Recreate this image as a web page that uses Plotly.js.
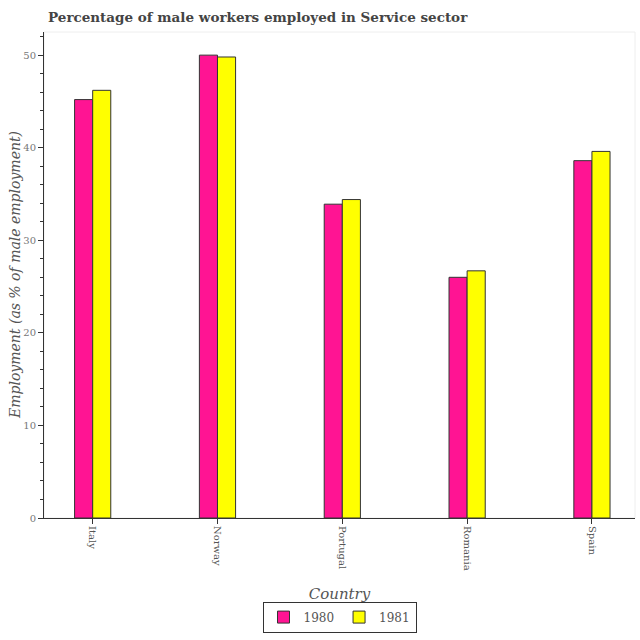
<!DOCTYPE html>
<html><head><meta charset="utf-8">
<script src="https://cdn.plot.ly/plotly-3.0.1.min.js"></script>
<style>body{margin:0;padding:0;background:#fff}</style>
</head><body>
<div id="chart" style="width:640px;height:640px"></div>
<script>
const countries = ["Italy", "Norway", "Portugal", "Romania", "Spain"];
const values1980 = [45.2, 50.0, 33.9, 26.0, 38.6];
const values1981 = [46.2, 49.8, 34.4, 26.7, 39.6];
const seriesNames = ["1980", "1981"];
const yTitle = "Employment (as % of male employment)";

const font = "DejaVu Serif, serif";
const traces = [
  {type: "bar", name: seriesNames[0], x: countries, y: values1980,
   marker: {color: "#ff1493", line: {color: "#333", width: 1}}},
  {type: "bar", name: seriesNames[1], x: countries, y: values1981,
   marker: {color: "#ffff00", line: {color: "#333", width: 1}}}
];
const layout = {
  width: 640, height: 640,
  margin: {l: 44, r: 5, t: 32, b: 122},
  paper_bgcolor: "#fff", plot_bgcolor: "#fff",
  font: {family: font, color: "#555", size: 11},
  title: {text: "<b>Percentage of male workers employed in Service sector</b>",
          x: 48/640, xanchor: "left", y: 1 - 17/640, yanchor: "middle",
          font: {family: font, size: 13.5, color: "#444"}},
  barmode: "group", bargap: 0.71, bargroupgap: 0,
  xaxis: {
    range: [-0.39, 4.345], showline: true, linecolor: "#333", linewidth: 1,
    ticks: "outside", ticklen: 5, tickcolor: "#333", tickangle: 90,
    tickfont: {family: font, size: 10, color: "#555"}, showgrid: false,
    title: {text: "<i>Country</i>", font: {family: font, size: 15, color: "#555"}, standoff: 18}
  },
  yaxis: {
    range: [0, 52.5], showline: true, linecolor: "#333", linewidth: 1,
    ticks: "outside", ticklen: 5, tickcolor: "#333", dtick: 10,
    tickfont: {family: font, size: 10, color: "#777"}, showgrid: false, zeroline: false,
    minor: {dtick: 2, ticks: "outside", ticklen: 3, tickcolor: "#333"}
  },
  annotations: [{text: "<i>" + yTitle + "</i>", xref: "paper", yref: "paper",
                 x: -29/591, y: 0.5, xanchor: "center", yanchor: "middle",
                 textangle: -90, showarrow: false,
                 font: {family: font, size: 14, color: "#555"}}],
  legend: {orientation: "h", x: 0.5, xanchor: "center", y: -0.172, yanchor: "top",
           bordercolor: "#333", borderwidth: 1, itemwidth: 30,
           font: {family: font, size: 12, color: "#555"}},
  shapes: [{type: "rect", xref: "paper", yref: "paper", x0: 0, x1: 1, y0: 0, y1: 1,
            line: {color: "#eee", width: 1}, layer: "below"}]
};
Plotly.newPlot("chart", traces, layout, {displayModeBar: false});
</script>
</body></html>
